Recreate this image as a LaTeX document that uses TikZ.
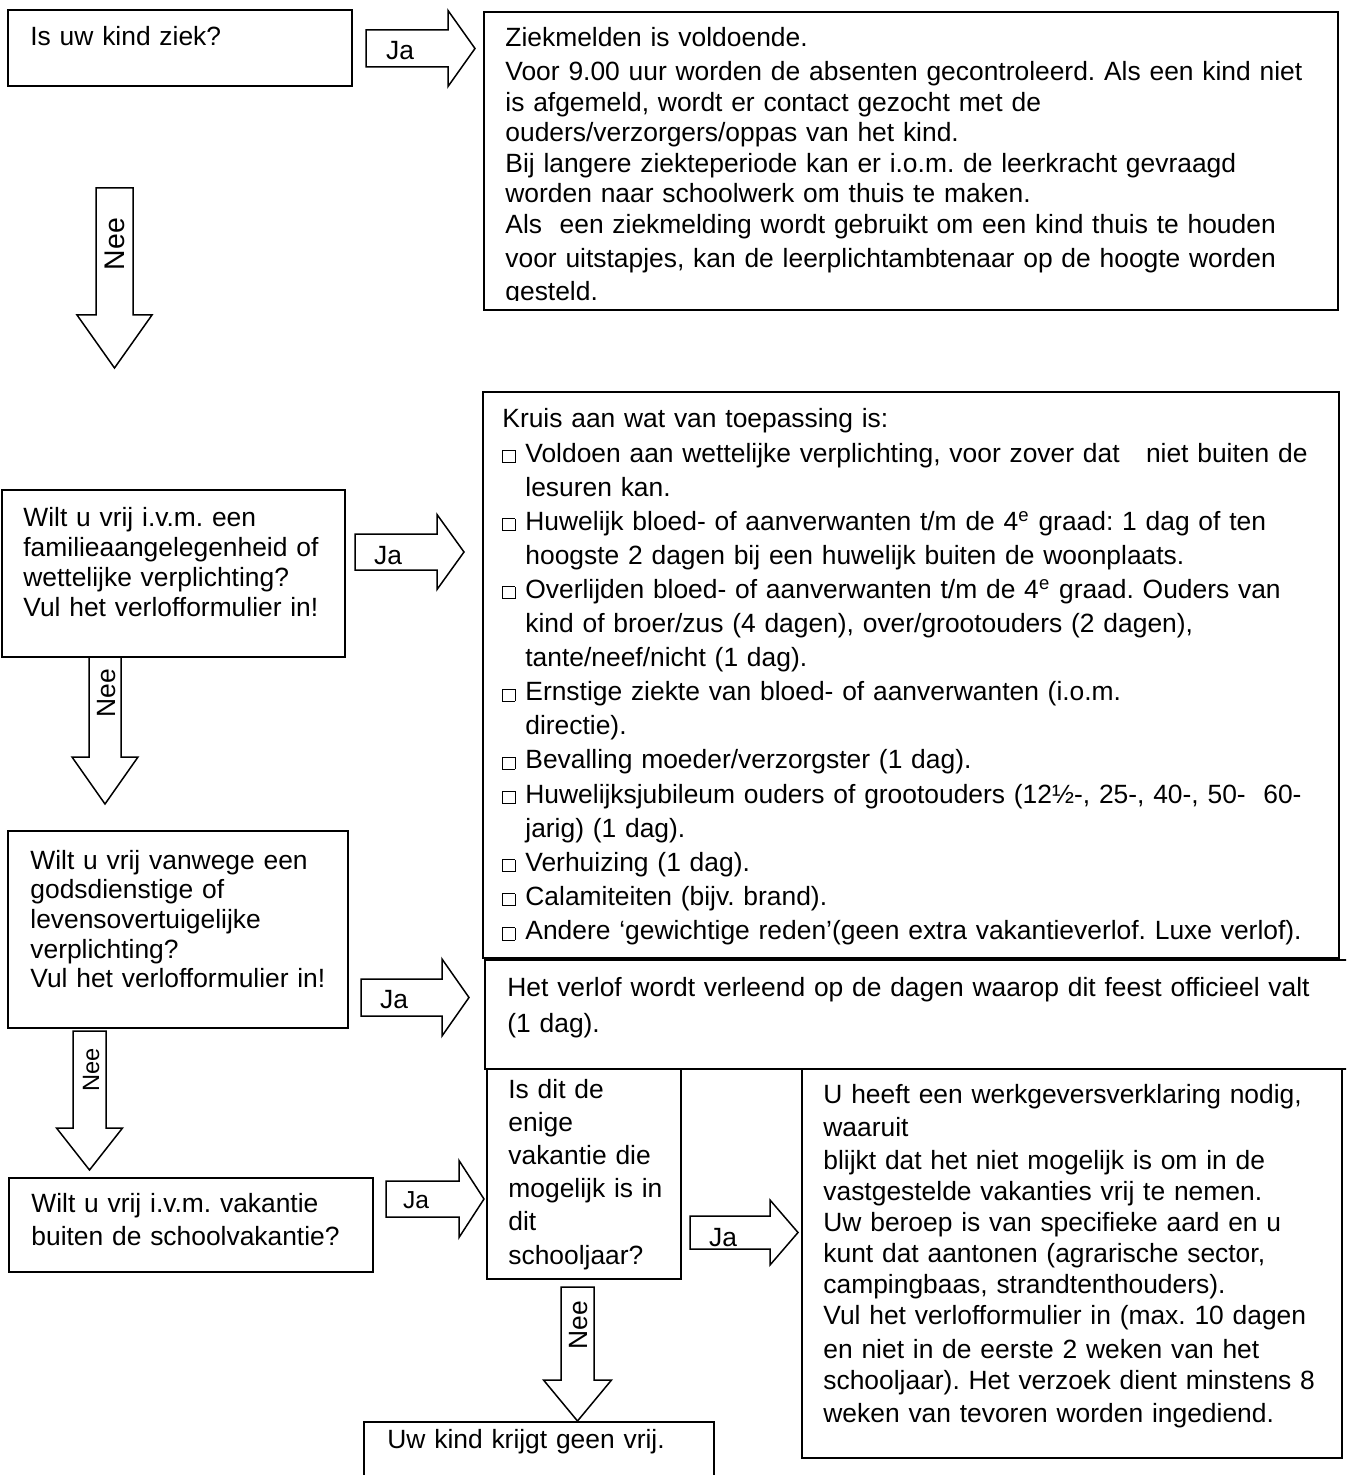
\documentclass[tikz,border=0pt]{standalone}
\usepackage{fontspec}
\setmainfont{Liberation Sans}
\frenchspacing

% aankruisvakje en inspringen in de lijst
\newcommand{\hokje}{{\setlength{\fboxsep}{0pt}\setlength{\fboxrule}{0.45pt}\fbox{\rule{0pt}{5.6pt}\rule{5.6pt}{0pt}}}}
\newcommand{\keuze}{\makebox[11.5pt][l]{\hokje}}
\newcommand{\inspring}{\hspace*{11.5pt}}

% blokpijlen: (#1,#2) begin midden, #3 schacht, #4 halve schacht, #5 halve kop, #6 kop
\newcommand{\pijlrechts}[6]{%
  \draw[pijl] (#1,#2) ++(0,-#4) -- ++(#3,0) -- ++(0,#4-#5) -- ++(#6,#5)
    -- ++(-#6,#5) -- ++(0,#4-#5) -- ++(-#3,0) -- cycle;}
\newcommand{\pijlomlaag}[6]{%
  \draw[pijl] (#1,#2) ++(-#4,0) -- ++(0,#3) -- ++(#4-#5,0) -- ++(#5,#6)
    -- ++(#5,-#6) -- ++(#4-#5,0) -- ++(0,-#3) -- cycle;}

\begin{document}
\begin{tikzpicture}[x=0.5pt, y=-0.5pt,
    kader/.style={draw, line width=1pt, anchor=north west, inner sep=0pt, outer sep=0pt},
    tekst/.style={anchor=base west, inner sep=0pt, align=left, text width=#1},
    regel/.style={font=\fontsize{13.2pt}{#1}\selectfont},
    pijl/.style={draw, line width=0.75pt, fill=white},
    lbl/.style={inner sep=0pt, font=\fontsize{13.2pt}{15pt}\selectfont}]
  \useasboundingbox (0,0) rectangle (1346,1475);
  \clip (0,0) rectangle (1346,1475);

  % vakken
  \node[kader, minimum width=172pt, minimum height=38pt] (ziek) at (8,10) {};
  \node[kader, minimum width=427pt, minimum height=149pt] (ziekmelden) at (484,12) {};
  \node[kader, minimum width=171.5pt, minimum height=83.5pt] (familie) at (2,490) {};
  \node[kader, minimum width=428pt, minimum height=283pt] (kruis) at (483,392) {};
  \node[kader, minimum width=170pt, minimum height=98.5pt] (godsdienst) at (8,831) {};
  \node[kader, minimum width=440pt, minimum height=54.5pt] (feest) at (485,960) {};
  \node[kader, minimum width=182pt, minimum height=47pt] (vakantie) at (9,1178) {};
  \node[kader, minimum width=97pt, minimum height=105pt] (enige) at (487,1069) {};
  \node[kader, minimum width=270pt, minimum height=194.5pt] (werkgever) at (802,1069) {};
  \node[kader, minimum width=175pt, minimum height=45pt] (geenvrij) at (364,1422) {};

  % teksten
  \node[tekst=160pt, regel=15pt] (ziekT) at (30,46) {Is uw kind ziek?};
  \begin{scope}
    \clip (484,12) rectangle (1338,301);
    \node[tekst=420pt, regel=15.3pt] (ziekmeldenT) at (505,47) {Ziekmelden is voldoende.\\[1.5pt]
      Voor 9.00 uur worden de absenten gecontroleerd. Als een kind niet\\
      is afgemeld, wordt er contact gezocht met de\\
      ouders/verzorgers/oppas van het kind.\\
      Bij langere ziekteperiode kan er i.o.m. de leerkracht gevraagd\\
      worden naar schoolwerk om thuis te maken.\\
      Als\ \ een ziekmelding wordt gebruikt om een kind thuis te houden\\[1.5pt]
      voor uitstapjes, kan de leerplichtambtenaar op de hoogte worden\\[1.5pt]
      gesteld.};
  \end{scope}
  \node[tekst=165pt, regel=15pt] (familieT) at (23,526) {Wilt u vrij i.v.m. een\\
    familieaangelegenheid of\\ wettelijke verplichting?\\ Vul het verlofformulier in!};
  \node[tekst=422pt, regel=17.05pt] (kruisT) at (502,428) {Kruis aan wat van toepassing is:\\
    \keuze Voldoen aan wettelijke verplichting, voor zover dat\ \ \ niet buiten de\\
    \inspring lesuren kan.\\
    \keuze Huwelijk bloed- of aanverwanten t/m de 4\textsuperscript{e} graad: 1 dag of ten\\
    \inspring hoogste 2 dagen bij een huwelijk buiten de woonplaats.\\
    \keuze Overlijden bloed- of aanverwanten t/m de 4\textsuperscript{e} graad. Ouders van\\
    \inspring kind of broer/zus (4 dagen), over/grootouders (2 dagen),\\
    \inspring tante/neef/nicht (1 dag).\\
    \keuze Ernstige ziekte van bloed- of aanverwanten (i.o.m.\\
    \inspring directie).\\
    \keuze Bevalling moeder/verzorgster (1 dag).\\
    \keuze Huwelijksjubileum ouders of grootouders (12½-, 25-, 40-, 50-\ \ 60-\\
    \inspring jarig) (1 dag).\\
    \keuze Verhuizing (1 dag).\\
    \keuze Calamiteiten (bijv. brand).\\
    \keuze Andere ‘gewichtige reden’(geen extra vakantieverlof. Luxe verlof).};
  \node[tekst=165pt, regel=14.85pt] (godsdienstT) at (30,869) {Wilt u vrij vanwege een\\
    godsdienstige of\\ levensovertuigelijke\\ verplichting?\\ Vul het verlofformulier in!};
  \node[tekst=420pt, regel=18pt] (feestT) at (507,996) {Het verlof wordt verleend op de dagen waarop dit feest officieel valt\\
    (1 dag).};
  \node[tekst=175pt, regel=16.5pt] (vakantieT) at (31,1212) {Wilt u vrij i.v.m. vakantie\\
    buiten de schoolvakantie?};
  \node[tekst=90pt, regel=16.6pt] (enigeT) at (508,1098) {Is dit de\\ enige\\ vakantie die\\
    mogelijk is in\\ dit\\ schooljaar?};
  \node[tekst=262pt, regel=15.5pt] (werkgeverT) at (823,1103) {U heeft een werkgeversverklaring nodig,\\[1.2pt]
    waaruit\\[1.2pt]
    blijkt dat het niet mogelijk is om in de\\
    vastgestelde vakanties vrij te nemen.\\
    Uw beroep is van specifieke aard en u\\
    kunt dat aantonen (agrarische sector,\\
    campingbaas, strandtenthouders).\\
    Vul het verlofformulier in (max. 10 dagen\\[1.2pt]
    en niet in de eerste 2 weken van het\\
    schooljaar). Het verzoek dient minstens 8\\[1.2pt]
    weken van tevoren worden ingediend.};
  \node[tekst=165pt, regel=15pt] (geenvrijT) at (387,1448) {Uw kind krijgt geen vrij.};

  % pijlen Ja
  \pijlrechts{366}{48.5}{82}{18.5}{38}{27}
  \pijlrechts{355}{552}{82}{18}{37.5}{27}
  \pijlrechts{361}{997.5}{81}{18.5}{38.5}{27}
  \pijlrechts{386}{1199}{73}{18}{38.5}{25}
  \pijlrechts{690}{1232.5}{80}{16.5}{32.5}{28}
  \node[lbl] (ja1) at (400,51) {Ja};
  \node[lbl] (ja2) at (388,556) {Ja};
  \node[lbl] (ja3) at (394,1000) {Ja};
  \node[lbl, font=\fontsize{12.3pt}{14pt}\selectfont] (ja4) at (416,1200) {Ja};
  \node[lbl] (ja5) at (723,1238) {Ja};

  % pijlen Nee
  \pijlomlaag{114.5}{188}{127}{18.5}{37.5}{53}
  \pijlomlaag{105}{657}{100}{16}{33}{47}
  \pijlomlaag{89.5}{1031}{97}{16.5}{33}{42}
  \pijlomlaag{577.5}{1287}{93}{16.5}{34}{41}
  \node[lbl, rotate=90, font=\fontsize{14.2pt}{16pt}\selectfont] (nee1) at (115,244) {Nee};
  \node[lbl, rotate=90] (nee2) at (107,693) {Nee};
  \node[lbl, rotate=90, font=\fontsize{11.8pt}{14pt}\selectfont] (nee3) at (91,1070) {Nee};
  \node[lbl, rotate=90] (nee4) at (579,1325) {Nee};
\end{tikzpicture}
\end{document}
